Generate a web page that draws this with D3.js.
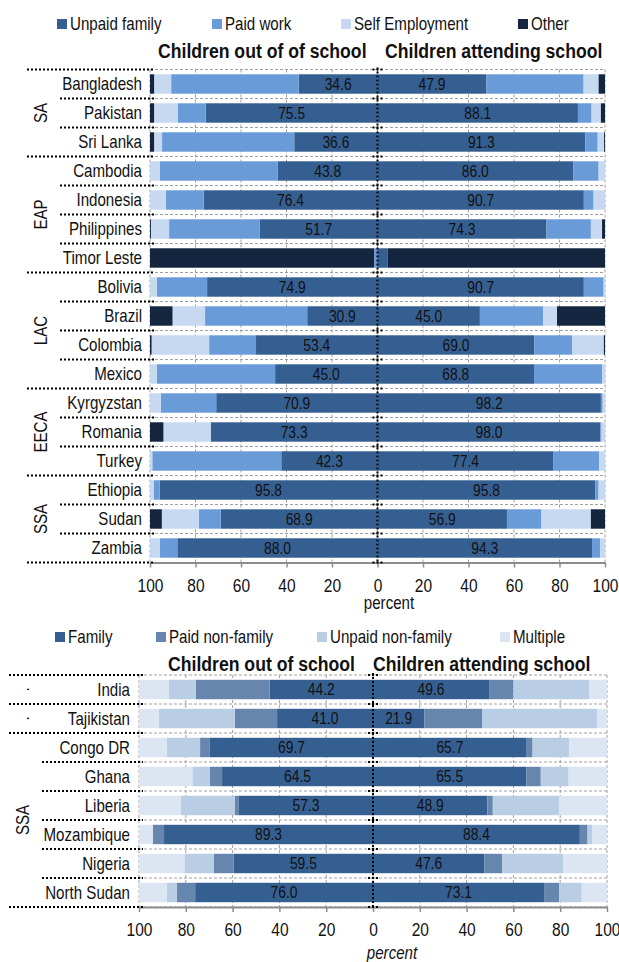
<!DOCTYPE html>
<html><head><meta charset="utf-8">
<script src="https://cdn.jsdelivr.net/npm/d3@7"></script>
<style>
body{margin:0;background:#fff}
svg text{font-family:'Liberation Sans',Arial,sans-serif;fill:#111}
</style>
</head><body>
<svg id="c" width="619" height="962"></svg>
<script>
// ---------- DATA: top chart ----------
const topCountries = ["Bangladesh","Pakistan","Sri Lanka","Cambodia","Indonesia","Philippines","Timor Leste","Bolivia","Brazil","Colombia","Mexico","Kyrgyzstan","Romania","Turkey","Ethiopia","Sudan","Zambia"];
const topRegionNames = ["SA","EAP","LAC","EECA","SSA"];
const topRegionSizes = [3,4,4,3,3];
const topSeries = ["Unpaid family","Paid work","Self Employment","Other"];
// Children out of school (stacked outward from centre)
const outUnpaid = [34.6,75.5,36.6,43.8,76.4,51.7,0,74.9,30.9,53.4,45.0,70.9,73.3,42.3,95.8,68.9,88.0];
const outPaid   = [56.1,12.2,58.1,51.8,16.7,39.9,1.5,22.1,44.9,20.6,52.0,24.4,0,56.7,2.6,9.6,7.6];
const outSelf   = [7.5,10.5,3.5,4.4,6.9,8.0,0,3.0,14.3,25.3,3.0,4.7,20.8,1.0,1.6,16.3,4.4];
const outOther  = [1.8,1.8,1.8,0,0,0.4,98.5,0,9.9,0.7,0,0,5.9,0,0,5.2,0];
// Children attending school
const attUnpaid = [47.9,88.1,91.3,86.0,90.7,74.3,4.4,90.7,45.0,69.0,68.8,98.2,98.0,77.4,95.8,56.9,94.3];
const attPaid   = [42.7,6.0,5.5,11.2,4.3,19.5,0,8.7,27.8,16.5,29.9,0.8,0.5,20.1,1.4,15.2,3.5];
const attSelf   = [6.6,4.1,2.8,2.8,5.0,4.9,0,0.6,6.1,14.0,1.3,1.0,1.5,2.5,2.8,21.7,2.2];
const attOther  = [2.8,1.8,0.4,0,0,1.3,95.6,0,21.1,0.5,0,0,0,0,0,6.2,0];

// ---------- DATA: bottom chart ----------
const botCountries = ["India","Tajikistan","Congo DR","Ghana","Liberia","Mozambique","Nigeria","North Sudan"];
const botRegionNames = [".",".","SSA"];
const botRegionSizes = [1,1,6];
const botSeries = ["Family","Paid non-family","Unpaid non-family","Multiple"];
const outFamily   = [44.2,41.0,69.7,64.5,57.3,89.3,59.5,76.0];
const outPaidNF   = [31.6,18.0,4.2,5.2,1.7,4.7,8.6,7.9];
const outUnpaidNF = [11.4,32.5,14.3,7.5,23.2,0.3,12.5,4.3];
const outMultiple = [12.8,8.5,11.8,22.8,17.8,5.7,19.4,11.8];
const attFamily   = [49.6,21.9,65.7,65.5,48.9,88.4,47.6,73.1];
const attPaidNF   = [10.4,24.7,2.5,6.2,2.3,3.3,7.7,6.4];
const attUnpaidNF = [32.3,49.1,15.7,11.9,28.3,1.9,25.9,9.7];
const attMultiple = [7.7,4.3,16.1,16.4,20.5,6.4,18.8,10.8];

const tickValues = [-100,-80,-60,-40,-20,0,20,40,60,80,100];

// ---------- drawing ----------
const svg = d3.select("#c");
const NX = 0.84; // horizontal condensing to imitate a narrow typeface

// place a text with condensed glyphs
function ptext(parent, x, y, str, extra){
  const t = parent.append("text")
    .attr("transform",`translate(${x},${y})${extra||""} scale(${NX},1)`).text(str);
  return t;
}

function drawChart(o){
  const g = svg.append("g");
  const x = d3.scaleLinear().domain([-100,100]).range([o.xMin,o.xMax]);
  const y = d3.scaleBand().domain(o.countries).range([o.top,o.bottom]).paddingInner(0.33).paddingOuter(0.165);
  const step = y.step();

  // legend
  const lg = g.append("g");
  o.series.forEach((s,k)=>{
    lg.append("rect").attr("x",o.legendX[k]).attr("y",o.legendY-11).attr("width",10).attr("height",10).attr("fill",o.colors[k]);
    ptext(lg,o.legendX[k]+13,o.legendY,s).style("font-size","18px");
  });
  // titles
  o.titles.forEach((t,i)=>{
    ptext(g,o.titleX[i],o.titleY,t).style("font-size","21px").style("font-weight","bold");
  });

  // vertical gridlines
  g.append("g").selectAll("line").data(tickValues).join("line")
    .attr("x1",d=>x(d)).attr("x2",d=>x(d)).attr("y1",o.top).attr("y2",o.bottom)
    .attr("stroke","#a0a0a0").attr("stroke-width",1).attr("stroke-dasharray","3,2");
  // horizontal gridlines at row boundaries
  const bounds = d3.range(o.countries.length+1);
  g.append("g").selectAll("line").data(bounds).join("line")
    .attr("x1",o.xMin).attr("x2",o.xMax).attr("y1",i=>o.top+i*step).attr("y2",i=>o.top+i*step)
    .attr("stroke","#a0a0a0").attr("stroke-width",1).attr("stroke-dasharray","3,2");

  // stacked bars
  [{sign:-1,arrs:o.left},{sign:1,arrs:o.right}].forEach(side=>{
    const keys = o.series;
    const table = o.countries.map((c,i)=>{const r={country:c}; keys.forEach((k,j)=>r[k]=side.arrs[j][i]); return r;});
    const stacked = d3.stack().keys(keys)(table);
    stacked.forEach((layer,k)=>{
      g.append("g").attr("fill",o.colors[k]).selectAll("rect").data(layer).join("rect")
        .attr("x",d=> side.sign<0 ? x(-d[1]) : x(d[0]))
        .attr("width",d=> Math.abs(x(d[1])-x(d[0])))
        .attr("y",d=>y(d.data.country)).attr("height",y.bandwidth());
    });
    g.append("g").selectAll("text").data(stacked[0].filter(d=>d[1]-d[0]>10)).join("text")
      .attr("transform",d=>`translate(${x(side.sign*(d[1]+d[0])/2)},${y(d.data.country)+y.bandwidth()/2}) scale(${NX},1)`)
      .attr("dy","0.36em")
      .attr("text-anchor","middle").style("font-size","16.5px")
      .text(d=>d3.format(".1f")(d[1]-d[0]));
  });

  // bottom axis
  const ax = g.append("g").attr("transform",`translate(0,${o.bottom})`)
    .call(d3.axisBottom(x).tickValues(tickValues).tickFormat(d=>Math.abs(d)).tickSize(5).tickPadding(11).tickSizeOuter(0));
  ax.select(".domain").attr("stroke","#8c8c8c").attr("stroke-width",2);
  ax.selectAll(".tick line").attr("stroke","#8c8c8c").attr("stroke-width",1.5);
  ax.selectAll(".tick text").style("font-size","18.5px").style("font-family","'Liberation Sans',Arial,sans-serif")
    .attr("fill","#111").attr("transform",`scale(${NX},1)`);
  // percent label
  ptext(g,o.percentX,o.percentY,"percent").attr("text-anchor","middle")
    .style("font-size","18px").style("font-style",o.percentItalic?"italic":"normal");

  // centre dotted axis
  const cx = x(0);
  g.append("line").attr("x1",cx).attr("x2",cx).attr("y1",o.top-2).attr("y2",o.bottom)
    .attr("stroke","#000").attr("stroke-width",2).attr("stroke-dasharray","2,2");
  g.append("g").selectAll("line").data(bounds).join("line")
    .attr("x1",cx-5).attr("x2",cx+5).attr("y1",i=>o.top+i*step).attr("y2",i=>o.top+i*step)
    .attr("stroke","#000").attr("stroke-width",2).attr("stroke-dasharray","2,2");

  // left dotted category separators
  const groupEdges = new Set([0]);
  let acc=0; o.regionSizes.forEach(s=>{acc+=s; groupEdges.add(acc);});
  g.append("g").selectAll("line").data(bounds).join("line")
    .attr("x1",i=>groupEdges.has(i)?o.longX:o.shortX).attr("x2",o.lineEnd)
    .attr("y1",i=>o.top+i*step).attr("y2",i=>o.top+i*step)
    .attr("stroke","#000").attr("stroke-width",2).attr("stroke-dasharray","2,2");

  // country labels
  g.append("g").selectAll("text").data(o.countries).join("text")
    .attr("transform",d=>`translate(${o.labelX},${y(d)+y.bandwidth()/2}) scale(${NX},1)`).attr("dy","0.36em")
    .attr("text-anchor","end").style("font-size","18px").text(d=>d);

  // region labels
  let start=0;
  o.regionNames.forEach((r,i)=>{
    const n=o.regionSizes[i];
    const yc = o.top + (start + n/2)*step;
    ptext(g,o.regionX,yc,r," rotate(-90)").attr("text-anchor","middle").style("font-size","18px");
    start+=n;
  });
}

drawChart({
  countries: topCountries, regionNames: topRegionNames, regionSizes: topRegionSizes,
  series: topSeries, colors:["#365f91","#6a9bd9","#c6d9f0","#14263f"],
  left:[outUnpaid,outPaid,outSelf,outOther], right:[attUnpaid,attPaid,attSelf,attOther],
  xMin:150, xMax:605, top:69.5, bottom:562.5,
  legendY:30, legendX:[57,212,341,518],
  titles:["Children out of of school","Children attending school"], titleX:[158,385], titleY:58,
  percentX:389, percentY:609, percentItalic:false,
  longX:27, shortX:60, lineEnd:155, labelX:142, regionX:47
});

drawChart({
  countries: botCountries, regionNames: botRegionNames, regionSizes: botRegionSizes,
  series: botSeries, colors:["#365f91","#6686ae","#b9cde5","#dce6f2"],
  left:[outFamily,outPaidNF,outUnpaidNF,outMultiple], right:[attFamily,attPaidNF,attUnpaidNF,attMultiple],
  xMin:139, xMax:607, top:675, bottom:907,
  legendY:643, legendX:[55,156,317,500],
  titles:["Children out of school","Children attending school"], titleX:[168,373], titleY:671,
  percentX:392, percentY:959, percentItalic:true,
  longX:9, shortX:42, lineEnd:143, labelX:130, regionX:29
});
</script>
</body></html>
